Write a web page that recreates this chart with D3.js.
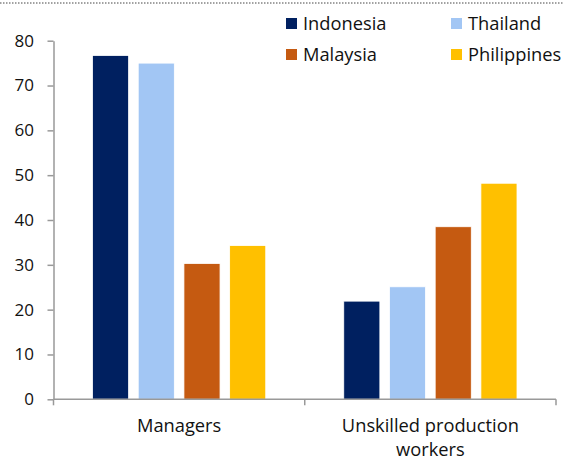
<!DOCTYPE html>
<html><head><meta charset="utf-8">
<script src="https://cdn.jsdelivr.net/npm/d3@7"></script>
<style>
body{margin:0;background:#fff;}
svg{display:block;font-family:"Open Sans",sans-serif;}
</style></head>
<body>
<svg id="chart" width="563" height="461"></svg>
<script>
const categories = ["Managers", "Unskilled production workers"];
const categoryLines = [["Managers"], ["Unskilled production", "workers"]];
const seriesNames = ["Indonesia", "Thailand", "Malaysia", "Philippines"];
const indonesia = [76.7, 21.9];
const thailand = [75.0, 25.1];
const malaysia = [30.3, 38.5];
const philippines = [34.3, 48.2];
const seriesValues = [indonesia, thailand, malaysia, philippines];
const colors = ["#002060", "#A2C6F4", "#C55A11", "#FFC000"];
const yTicks = [0, 10, 20, 30, 40, 50, 60, 70, 80];

const svg = d3.select("#chart");
const mLeft = 53.5, mRight = 556, mTop = 40.7, mBottom = 399.3;

const x0 = d3.scaleBand().domain(categories).range([mLeft, mRight]).paddingInner(0).paddingOuter(0);
const x1 = d3.scaleBand().domain(seriesNames).range([39, x0.bandwidth() - 39]).paddingInner(0.21).paddingOuter(0);
const y = d3.scaleLinear().domain([0, 80]).range([mBottom, mTop]);

// top dotted rule
svg.append("line").attr("x1", 0).attr("x2", 563).attr("y1", 3).attr("y2", 3)
  .attr("stroke", "#444").attr("stroke-width", 1).attr("stroke-dasharray", "1.5,1.5");

// bars
const rows = categories.map((c, i) => seriesNames.map((s, j) => ({cat: c, series: s, value: seriesValues[j][i], color: colors[j]})));
svg.append("g").selectAll("g").data(rows).join("g")
  .attr("transform", (d, i) => `translate(${x0(categories[i])},0)`)
  .selectAll("rect").data(d => d).join("rect")
  .attr("x", d => x1(d.series))
  .attr("width", x1.bandwidth())
  .attr("y", d => y(d.value))
  .attr("height", d => y(0) - y(d.value))
  .attr("fill", d => d.color)
  .attr("stroke", "#fff").attr("stroke-width", 0.8);

// y axis
const yAxis = d3.axisLeft(y).tickValues(yTicks).tickSize(6).tickPadding(10).tickSizeOuter(0);
const gy = svg.append("g").attr("transform", `translate(${mLeft},0)`).call(yAxis);
gy.select(".domain").attr("stroke", "#999").attr("stroke-width", 1.5);
gy.selectAll(".tick line").attr("stroke", "#999").attr("stroke-width", 1.5);
gy.selectAll(".tick text").attr("font-size", 17).attr("fill", "#111").attr("font-family", "Open Sans, sans-serif").attr("x", -19.5);

// x axis
const gx = svg.append("g").attr("transform", `translate(0,${mBottom})`);
gx.append("line").attr("x1", mLeft).attr("x2", mRight).attr("stroke", "#999").attr("stroke-width", 1.5);
const xBounds = [mLeft, x0(categories[1]), mRight];
gx.selectAll(".xt").data(xBounds).join("line").attr("class", "xt")
  .attr("x1", d => d).attr("x2", d => d).attr("y1", 0).attr("y2", 6)
  .attr("stroke", "#999").attr("stroke-width", 1.5);

categories.forEach((c, i) => {
  const t = svg.append("text").attr("text-anchor", "middle").attr("font-size", 18.3).attr("fill", "#111")
    .attr("x", x0(c) + x0.bandwidth() / 2).attr("y", 432);
  categoryLines[i].forEach((line, k) => {
    t.append("tspan").attr("x", x0(c) + x0.bandwidth() / 2).attr("dy", k === 0 ? 0 : 23.5).text(line);
  });
});

// legend
const legPos = [[286, 18], [451, 18], [286, 49], [451, 49]];
const leg = svg.append("g").selectAll("g").data(seriesNames).join("g")
  .attr("transform", (d, i) => `translate(${legPos[i][0]},${legPos[i][1]})`);
leg.append("rect").attr("width", 11).attr("height", 11).attr("fill", (d, i) => colors[i]);
leg.append("text").attr("x", 17).attr("y", 11.5).attr("font-size", 18.3).attr("fill", "#111").text(d => d);
</script>
</body></html>
